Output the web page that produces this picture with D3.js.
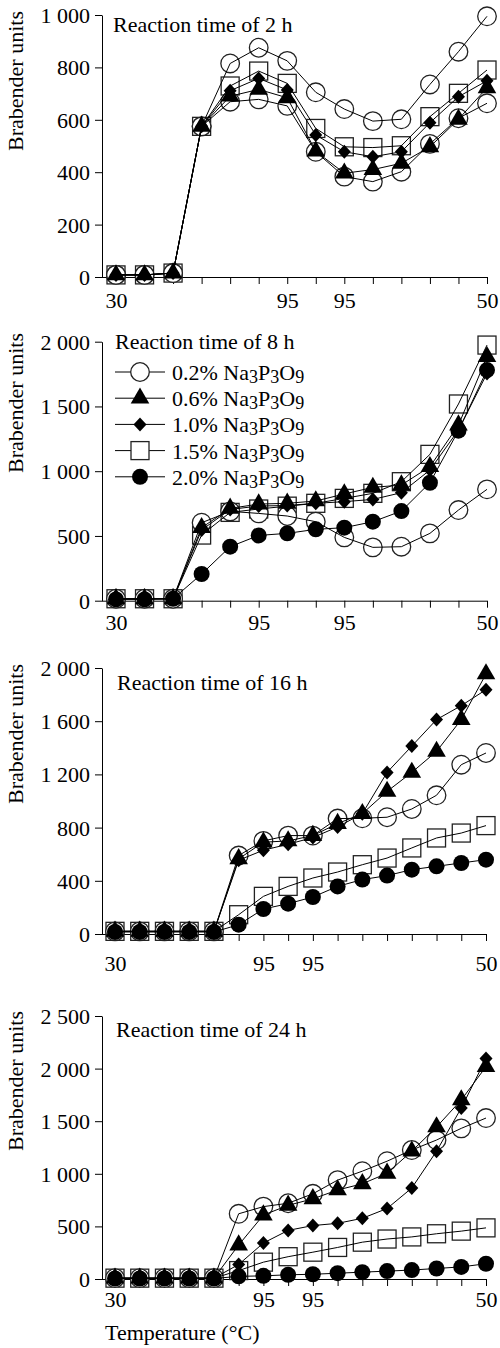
<!DOCTYPE html>
<html>
<head>
<meta charset="utf-8">
<script src="https://cdn.jsdelivr.net/npm/d3@7"></script>
<style>
body { margin: 0; background: #fff; }
svg text { font-family: "Liberation Serif", "Times New Roman", serif; }
</style>
</head>
<body>
<script>
var width = 500;
var height = 1348;

// series: 0.2%, 0.6%, 1.0%, 1.5%, 2.0% Na3P3O9
var concentrations = ['0.2%', '0.6%', '1.0%', '1.5%', '2.0%'];

// x tick labels (one per reading)
var ticks2h = ['30', '', '', '', '', '', '95', '', '95', '', '', '', '', '50'];
var ticks8h = ['30', '', '', '', '', '95', '', '', '95', '', '', '', '', '50'];
var ticks16h = ['30', '', '', '', '', '', '95', '', '95', '', '', '', '', '', '', '50'];
var ticks24h = ['30', '', '', '', '', '', '95', '', '95', '', '', '', '', '', '', '50'];

// Brabender units per reading, one row per concentration
var h2 = [
  [8, 8, 15, 575, 815, 875, 825, 705, 641, 595, 602, 735, 860, 995],
  [8, 8, 15, 575, 690, 716, 684, 480, 396, 410, 434, 497, 602, 722],
  [8, 8, 15, 575, 711, 758, 714, 542, 478, 459, 478, 589, 688, 749],
  [8, 8, 15, 575, 729, 786, 739, 567, 497, 494, 501, 612, 701, 790],
  [8, 8, 15, 575, 669, 678, 653, 478, 383, 364, 402, 508, 606, 663]
];
var h8 = [
  [15, 15, 15, 602, 690, 674, 654, 610, 489, 412, 417, 520, 700, 860],
  [15, 15, 15, 564, 713, 746, 752, 770, 824, 875, 893, 1035, 1356, 1884],
  [15, 15, 15, 546, 705, 731, 735, 752, 765, 782, 834, 1009, 1318, 1755],
  [15, 15, 15, 507, 682, 708, 730, 752, 790, 829, 919, 1130, 1519, 1974],
  [10, 10, 15, 206, 417, 504, 520, 551, 564, 610, 692, 911, 1313, 1781]
];
var h16 = [
  [20, 20, 20, 20, 20, 590, 700, 740, 740, 868, 870, 878, 940, 1043, 1273, 1361],
  [20, 20, 20, 20, 20, 565, 690, 700, 740, 830, 905, 1072, 1215, 1373, 1612, 1955],
  [20, 20, 20, 20, 20, 555, 630, 675, 725, 805, 905, 1215, 1413, 1612, 1717, 1837],
  [20, 20, 20, 20, 20, 145, 283, 358, 421, 466, 521, 571, 647, 722, 759, 815],
  [15, 15, 15, 15, 15, 70, 188, 228, 278, 358, 409, 439, 484, 509, 534, 559]
];
var h24 = [
  [8, 8, 8, 8, 8, 620, 688, 720, 810, 940, 1025, 1120, 1226, 1321, 1432, 1530],
  [8, 8, 8, 8, 8, 323, 608, 700, 762, 846, 905, 1005, 1215, 1445, 1702, 2018],
  [8, 8, 8, 8, 8, 138, 342, 462, 508, 529, 577, 670, 865, 1215, 1625, 2095],
  [8, 8, 8, 8, 8, 80, 160, 212, 255, 300, 350, 380, 400, 430, 455, 486],
  [5, 5, 5, 5, 5, 25, 30, 40, 45, 55, 65, 75, 85, 100, 115, 145]
];

// layout of the four stacked panels
var panels = [
  {title: 'Reaction time of 2 h', data: h2, ticks: ticks2h, max: 1000, step: 200,
   top: 15, bottom: 277, gap: 31, titleX: 113, titleY: 32, yTitle: 81,
   shapes: ['circle', 'triangle', 'diamond', 'square', 'circle']},
  {title: 'Reaction time of 8 h', data: h8, ticks: ticks8h, max: 2000, step: 500,
   top: 341.7, bottom: 600.7, gap: 29, titleX: 115, titleY: 349, yTitle: 403, legend: true,
   shapes: ['circle', 'triangle', 'diamond', 'square', 'dot']},
  {title: 'Reaction time of 16 h', data: h16, ticks: ticks16h, max: 2000, step: 400,
   top: 668, bottom: 934, gap: 37, titleX: 117, titleY: 690, yTitle: 734,
   shapes: ['circle', 'triangle', 'diamond', 'square', 'dot']},
  {title: 'Reaction time of 24 h', data: h24, ticks: ticks24h, max: 2500, step: 500,
   top: 1016, bottom: 1279, gap: 28, titleX: 116, titleY: 1037, yTitle: 1081,
   shapes: ['circle', 'triangle', 'diamond', 'square', 'dot']}
];

var axisX = 102;
var fontSize = 22;
// stacking order of the markers
var zOrder = {square: 0, circle: 1, triangle: 2, diamond: 3, dot: 4};

var svg = d3.select('body')
  .append('svg')
  .attr('width', width)
  .attr('height', height);

function marker(sel, shape) {
  if (shape == 'circle') {
    sel.append('circle').attr('r', 9.3)
      .attr('fill', '#fff').attr('stroke', '#222').attr('stroke-width', 1.3);
  } else if (shape == 'dot') {
    sel.append('circle').attr('r', 8).attr('fill', '#000');
  } else if (shape == 'square') {
    sel.append('rect').attr('x', -9).attr('y', -9).attr('width', 18).attr('height', 18)
      .attr('fill', '#fff').attr('stroke', '#222').attr('stroke-width', 1.3);
  } else if (shape == 'triangle') {
    sel.append('path').attr('d', d3.symbol(d3.symbolTriangle, 150)()).attr('fill', '#000');
  } else if (shape == 'diamond') {
    sel.append('path').attr('d', 'M0,-7L6.5,0L0,7L-6.5,0Z').attr('fill', '#000');
  }
}

var fmt = function(d) { return d3.format(',')(d).replace(',', ' '); };

panels.forEach(function(p) {
  var n = p.ticks.length;
  var x = d3.scalePoint().domain(d3.range(n)).range([n == 14 ? 116 : 115, n == 14 ? 487 : 486]);
  var y = d3.scaleLinear().domain([0, p.max]).range([p.bottom, p.top]);

  // y axis
  var gy = svg.append('g')
    .attr('transform', 'translate(' + axisX + ',0)')
    .call(d3.axisLeft(y)
      .tickValues(d3.range(0, p.max + 1, p.step))
      .tickSize(7).tickSizeOuter(0).tickPadding(5)
      .tickFormat(fmt));
  gy.attr('font-size', fontSize).attr('font-family', null);
  gy.selectAll('.tick text').attr('dy', '0.34em');

  // x axis
  var gx = svg.append('g')
    .attr('transform', 'translate(0,' + p.bottom + ')')
    .call(d3.axisBottom(x).tickSize(7).tickSizeOuter(0)
      .tickFormat(function(i) { return p.ticks[i]; }));
  gx.attr('font-size', fontSize).attr('font-family', null);
  gx.select('.domain').attr('d', 'M' + axisX + ',0.5H' + x(n - 1));
  gx.selectAll('.tick text').attr('y', p.gap).attr('dy', 0);

  // y title
  svg.append('text')
    .attr('transform', 'translate(23,' + p.yTitle + ') rotate(-90)')
    .attr('text-anchor', 'middle')
    .attr('font-size', fontSize)
    .text('Brabender units');

  // panel title
  svg.append('text')
    .attr('x', p.titleX).attr('y', p.titleY)
    .attr('font-size', fontSize)
    .text(p.title);

  // markers first, then the connecting lines on top
  var order = d3.range(p.data.length).sort(function(a, b) {
    return zOrder[p.shapes[a]] - zOrder[p.shapes[b]];
  });
  order.forEach(function(s) {
    p.data[s].forEach(function(v, i) {
      var g = svg.append('g').attr('transform', 'translate(' + x(i) + ',' + y(v) + ')');
      marker(g, p.shapes[s]);
    });
  });

  var line = d3.line()
    .x(function(d, i) { return x(i); })
    .y(function(d) { return y(d); });
  p.data.forEach(function(series) {
    svg.append('path')
      .attr('d', line(series))
      .attr('fill', 'none')
      .attr('stroke', '#000')
      .attr('stroke-width', 1);
  });

  // legend
  if (p.legend) {
    concentrations.forEach(function(c, i) {
      var ry = 372 + i * 26.2;
      svg.append('line')
        .attr('x1', 115).attr('x2', 165).attr('y1', ry).attr('y2', ry)
        .attr('stroke', '#000').attr('stroke-width', 1);
      marker(svg.append('g').attr('transform', 'translate(140,' + ry + ')'), p.shapes[i]);
      var t = svg.append('text').attr('x', 172).attr('y', ry + 8).attr('font-size', fontSize);
      t.append('tspan').text(c + ' Na');
      t.append('tspan').attr('dy', 3).attr('font-size', 18).text('3');
      t.append('tspan').attr('dy', -3).text('P');
      t.append('tspan').attr('dy', 3).attr('font-size', 18).text('3');
      t.append('tspan').attr('dy', -3).text('O');
      t.append('tspan').attr('dy', 3).attr('font-size', 18).text('9');
    });
  }
});

// x title
svg.append('text')
  .attr('x', 105).attr('y', 1340)
  .attr('font-size', fontSize)
  .text('Temperature (°C)');
</script>
</body>
</html>
